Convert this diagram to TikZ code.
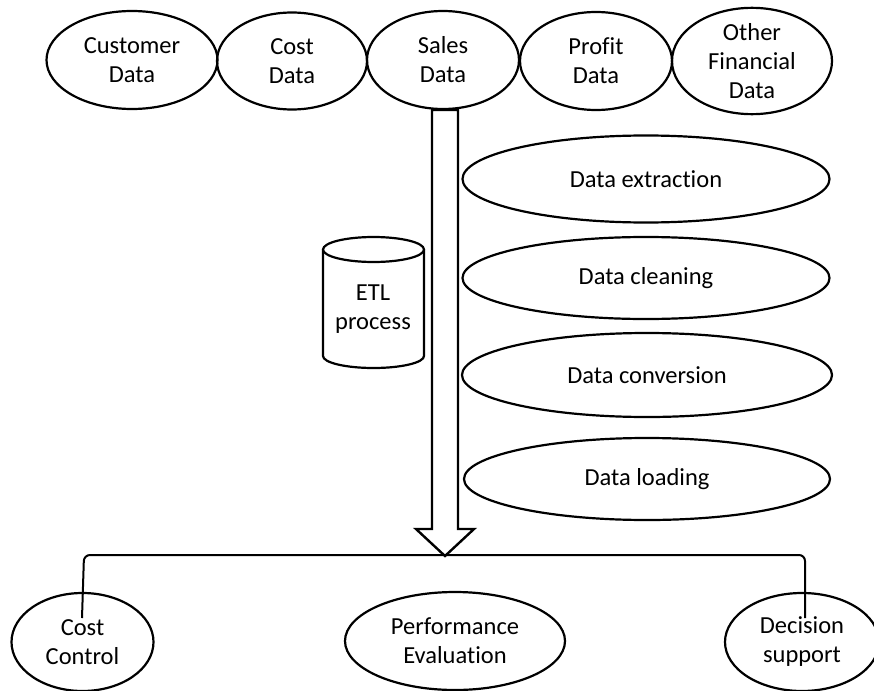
\documentclass[tikz,border=0pt]{standalone}
\usepackage{fontspec}
\setmainfont{Carlito}[Ligatures=NoCommon]
\usetikzlibrary{shapes.geometric}
\begin{document}
\begin{tikzpicture}[x=1pt,y=-1pt,
  every node/.style={font=\fontsize{24.5}{29}\selectfont, align=center, inner sep=0pt},
  ell/.style={draw, ellipse, line width=2.2pt},
  link/.style={line width=2pt}]
\useasboundingbox (0,0) rectangle (874,690);
% top sources
\node[ell, minimum width=171pt, minimum height=98pt] (cust) at (132,60) {Customer\\Data};
\node[ell, minimum width=150pt, minimum height=97pt] (cost) at (292,61) {Cost\\Data};
\node[ell, minimum width=152pt, minimum height=98pt] (sales) at (443,60) {Sales\\Data};
\node[ell, minimum width=152pt, minimum height=98pt] (profit) at (596,61) {Profit\\Data};
\node[ell, minimum width=160pt, minimum height=102pt] (other) at (752,61) {Other\\Financial\\Data};
% big arrow
\coordinate (tip) at (445,556);
\draw[line width=2.4pt, fill=white, line join=miter]
  (432,110) -- (432,529) -- (416,529) -- (tip) -- (474,529) -- (458,529) -- (458,110) -- cycle;
% ETL cylinder
\draw[line width=2.2pt, fill=white] (323,249.5) -- (323,356) arc[start angle=180, end angle=0, x radius=50.5, y radius=12] -- (424,249.5);
\draw[line width=2.2pt, fill=white] (373.5,249.5) ellipse[x radius=50.5, y radius=12.5];
\node (etl) at (373,309) {ETL\\process};
% steps
\node[ell, minimum width=367pt, minimum height=87pt] (ext) at (646,179) {Data extraction};
\node[ell, minimum width=367pt, minimum height=82pt] (cln) at (646,278) {Data cleaning};
\node[ell, minimum width=370pt, minimum height=84pt] (cnv) at (647,375) {Data conversion};
\node[ell, minimum width=366pt, minimum height=82pt] (lod) at (647,479) {Data loading};
% outcomes
\node[ell, minimum width=142pt, minimum height=98pt] (cc) at (82.5,642) {Cost\\Control};
\node[ell, minimum width=220pt, minimum height=98pt] (pe) at (455,641) {Performance\\Evaluation};
\node[ell, minimum width=154pt, minimum height=98pt] (ds) at (802,642) {Decision\\support};
% bracket
\coordinate (lend) at (82,618);
\coordinate (rend) at (805,618);
\draw[link, rounded corners=6pt] (lend) -- (84,555) -- (tip |- 0,555) -- (805,555) -- (rend);
\end{tikzpicture}
\end{document}
